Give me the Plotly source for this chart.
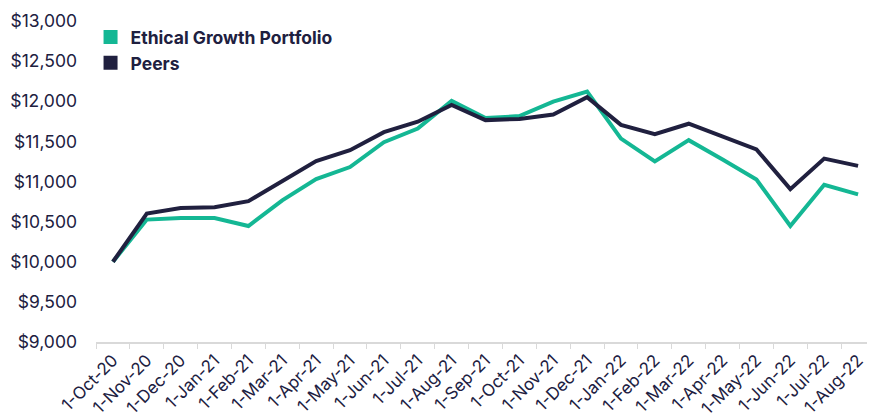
import plotly.graph_objects as go

categories = ["1-Oct-20", "1-Nov-20", "1-Dec-20", "1-Jan-21", "1-Feb-21", "1-Mar-21",
              "1-Apr-21", "1-May-21", "1-Jun-21", "1-Jul-21", "1-Aug-21", "1-Sep-21",
              "1-Oct-21", "1-Nov-21", "1-Dec-21", "1-Jan-22", "1-Feb-22", "1-Mar-22",
              "1-Apr-22", "1-May-22", "1-Jun-22", "1-Jul-22", "1-Aug-22"]

ethical = [10000, 10525, 10545, 10545, 10445, 10765, 11030, 11180, 11490, 11660, 12005,
           11790, 11815, 11995, 12120, 11535, 11250, 11515, 11275, 11025, 10445, 10960, 10840]

peers = [10000, 10600, 10670, 10680, 10755, 11010, 11255, 11390, 11615, 11745, 11955,
         11765, 11780, 11835, 12050, 11705, 11590, 11720, 11560, 11400, 10905, 11285, 11195]

y_ticks = [9000, 9500, 10000, 10500, 11000, 11500, 12000, 12500, 13000]
y_tick_labels = ["$9,000", "$9,500", "$10,000", "$10,500", "$11,000", "$11,500",
                 "$12,000", "$12,500", "$13,000"]

GREEN = "#14b794"
NAVY = "#20203f"
TEXT = "#20203f"
FONT = "Inter, Lato, sans-serif"

fig = go.Figure()
fig.add_trace(go.Scatter(x=categories, y=ethical, mode="lines",
                         line=dict(color=GREEN, width=4), showlegend=False,
                         name="Ethical Growth Portfolio"))
fig.add_trace(go.Scatter(x=categories, y=peers, mode="lines",
                         line=dict(color=NAVY, width=4), showlegend=False,
                         name="Peers"))
# legend entries with square swatches
fig.add_trace(go.Scatter(x=[None], y=[None], mode="markers", name="Ethical Growth Portfolio",
                         marker=dict(symbol="square", size=14, color=GREEN)))
fig.add_trace(go.Scatter(x=[None], y=[None], mode="markers", name="Peers",
                         marker=dict(symbol="square", size=14, color=NAVY)))

fig.update_layout(
    width=867, height=409,
    margin=dict(l=88, r=0, t=13, b=75),
    plot_bgcolor="white", paper_bgcolor="white",
    font=dict(family=FONT, color=TEXT, size=16),
    legend=dict(x=-0.007, y=1.006, xanchor="left", yanchor="top",
                font=dict(family=FONT, size=17.5, color=TEXT, weight="bold"),
                bgcolor="rgba(0,0,0,0)", tracegroupgap=0, itemwidth=30),
    xaxis=dict(type="category", range=[-0.5, 22.5], tickangle=-45, automargin=False,
               tickson="boundaries", ticks="outside", ticklen=5, tickcolor="#d9d9d9",
               showline=True, linecolor="#d9d9d9", linewidth=1.5,
               showgrid=False, zeroline=False,
               tickfont=dict(family=FONT, size=17, color=TEXT)),
    yaxis=dict(range=[9000, 13000], tickvals=y_ticks, ticktext=y_tick_labels,
               showgrid=False, zeroline=False, showline=False, ticks="", automargin=False,
               ticklabelstandoff=18,
               tickfont=dict(family=FONT, size=17.5, color=TEXT)),
)

fig.write_html("out.html")
